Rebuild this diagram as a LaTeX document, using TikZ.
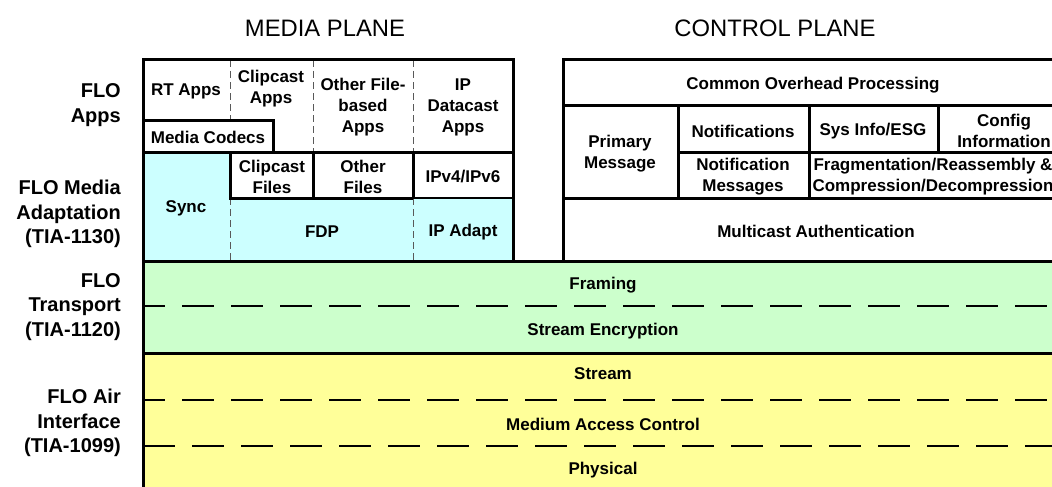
\documentclass[tikz,border=0pt]{standalone}
\usepackage{fontspec}
\setmainfont{Liberation Sans}
\definecolor{adaptcyan}{HTML}{CCFFFF}
\definecolor{transgreen}{HTML}{CCFFCC}
\definecolor{airyellow}{HTML}{FFFF99}
\tikzset{
  cell/.style={font=\fontsize{17}{21}\selectfont\bfseries,align=center,inner sep=0pt,yshift=-2pt},
  sidelbl/.style={font=\fontsize{20}{24.5}\selectfont\bfseries,align=right,anchor=east,inner sep=0pt,yshift=-2pt},
  plane/.style={font=\fontsize{23.8}{28}\selectfont,inner sep=0pt},
  thk/.style={line width=3pt},
  subdash/.style={black!65,line width=1pt,dash pattern=on 7pt off 4pt},
  laydash/.style={line width=2pt,dash pattern=on 32pt off 17pt},
}
\begin{document}
\begin{tikzpicture}[x=1pt,y=-1pt]
\def\rx{1070}
\clip (0,0) rectangle (1052,487);
\fill[white] (0,0) rectangle (1052,487);
\fill[adaptcyan] (143,152) rectangle (230,261);
\fill[adaptcyan] (230,198) rectangle (513,261);
\fill[transgreen] (143,261) rectangle (\rx,353);
\fill[airyellow] (143,353) rectangle (\rx,500);
\draw[laydash,dash phase=10pt] (143,306) -- (\rx,306);
\draw[laydash,dash phase=10pt] (143,400) -- (\rx,400);
\draw[laydash] (143,446) -- (\rx,446);
\draw[subdash] (230,60) -- (230,120);
\draw[subdash] (230,198) -- (230,261);
\draw[subdash] (313,60) -- (313,152);
\draw[subdash] (413,60) -- (413,152);
\draw[subdash] (413,198) -- (413,261);
\draw[line width=1.2pt] (413,198) -- (513,198);
\draw[thk] (143,60) rectangle (513,261);
\draw[thk] (143,120) -- (273,120) -- (273,152);
\draw[thk] (143,152) -- (513,152);
\draw[thk] (230,152) -- (230,198) -- (413,198);
\draw[thk] (313,152) -- (313,198);
\draw[thk] (413,152) -- (413,198);
\draw[thk] (563,261) -- (563,60) -- (\rx,60);
\draw[thk] (563,105) -- (\rx,105);
\draw[thk] (678,105) -- (678,198);
\draw[thk] (678,152) -- (\rx,152);
\draw[thk] (809,105) -- (809,198);
\draw[thk] (938,105) -- (938,152);
\draw[thk] (563,198) -- (\rx,198);
\draw[thk] (\rx,261) -- (143,261) -- (143,500);
\draw[thk] (143,353) -- (\rx,353);

\node[plane] (mediaplane) at (325,28) {MEDIA PLANE};
\node[plane] (controlplane) at (775,28) {CONTROL PLANE};

\node[sidelbl] (floapps) at (121,103) {FLO\\Apps};
\node[sidelbl] (floadapt) at (121,212) {FLO Media\\Adaptation\\(TIA-1130)};
\node[sidelbl] (flotrans) at (121,305) {FLO\\Transport\\(TIA-1120)};
\node[sidelbl] (floair) at (121,421) {FLO Air\\Interface\\(TIA-1099)};

\node[cell] (rtapps) at (186,89) {RT Apps};
\node[cell] (clipapps) at (271,87) {Clipcast\\Apps};
\node[cell] (fileapps) at (363,105) {Other File-\\based\\Apps};
\node[cell] (ipapps) at (463,105) {IP\\Datacast\\Apps};
\node[cell] (codecs) at (208,135) {Media Codecs};
\node[cell] (sync) at (186,206) {Sync};
\node[cell] (clipfiles) at (272,175) {Clipcast\\Files};
\node[cell] (otherfiles) at (363,175) {Other\\Files};
\node[cell] (ipv) at (463,175) {IPv4/IPv6};
\node[cell] (fdp) at (322,230) {FDP};
\node[cell] (ipadapt) at (463,230) {IP Adapt};

\node[cell] (overhead) at (813,83) {Common Overhead Processing};
\node[cell] (primary) at (620,152) {Primary\\Message};
\node[cell] (notif) at (743,129) {Notifications};
\node[cell] (sysinfo) at (873,129) {Sys Info/ESG};
\node[cell] (config) at (1004,129) {Config\\Information};
\node[cell] (notifmsg) at (743,175) {Notification\\Messages};
\node[cell] (frag) at (933,175) {Fragmentation/Reassembly \&\\Compression/Decompression};
\node[cell] (mcauth) at (816,229) {Multicast Authentication};

\node[cell] (framing) at (603,283) {Framing};
\node[cell] (encrypt) at (603,329) {Stream Encryption};
\node[cell] (stream) at (603,372) {Stream};
\node[cell] (mac) at (603,422) {Medium Access Control};
\node[cell] (phy) at (603,468) {Physical};
\end{tikzpicture}
\end{document}
